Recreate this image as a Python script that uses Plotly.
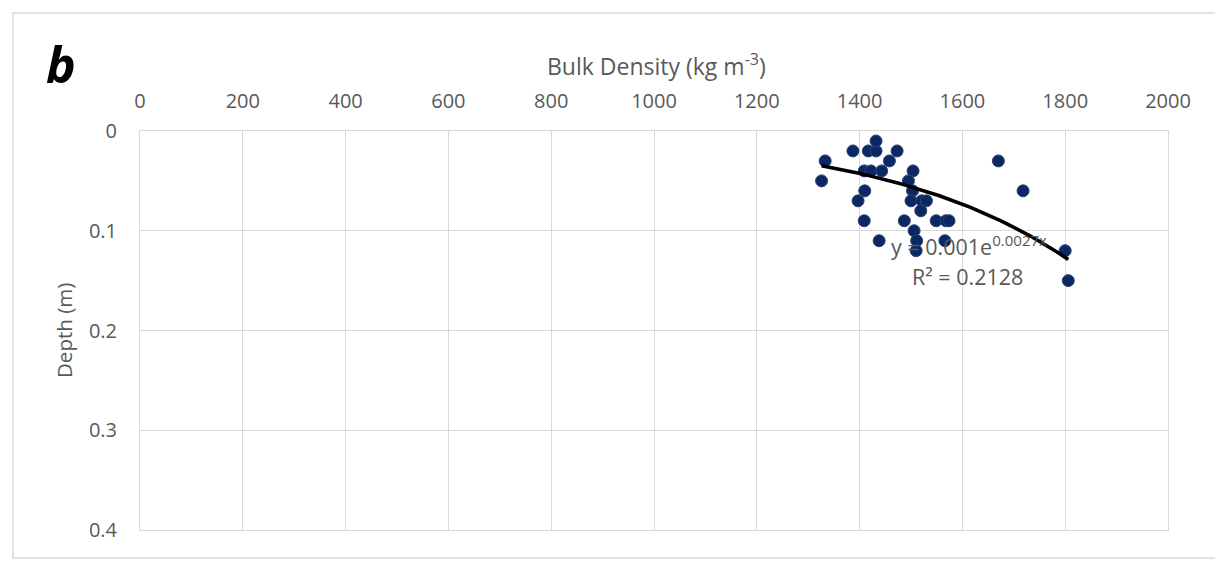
import numpy as np
import plotly.graph_objects as go

# Measured data (bulk density kg m-3, depth m)
bulk_density = [1333, 1326, 1387, 1417, 1432, 1432, 1473, 1458, 1409, 1422, 1443,
                1504, 1495, 1503, 1410, 1397, 1500, 1521, 1530, 1519, 1409, 1487,
                1549, 1568, 1574, 1506, 1438, 1511, 1566, 1510, 1670, 1718, 1800, 1806]
depth = [0.03, 0.05, 0.02, 0.02, 0.02, 0.01, 0.02, 0.03, 0.04, 0.04, 0.04,
         0.04, 0.05, 0.06, 0.06, 0.07, 0.07, 0.07, 0.07, 0.08, 0.09, 0.09,
         0.09, 0.09, 0.09, 0.10, 0.11, 0.11, 0.11, 0.12, 0.03, 0.06, 0.12, 0.15]

# Exponential trendline coefficients (y = a * exp(b x)) as drawn
TREND_A = 0.00093
TREND_B = 0.00273

x_ticks = [0, 200, 400, 600, 800, 1000, 1200, 1400, 1600, 1800, 2000]
y_ticks = [0, 0.1, 0.2, 0.3, 0.4]
y_ticktext = ["0", "0.1", "0.2", "0.3", "0.4"]

FONT = "Open Sans"
GREY = "#595959"
GRID = "#d9d9d9"

tx = np.linspace(min(bulk_density), max(bulk_density), 100)
ty = TREND_A * np.exp(TREND_B * tx)

fig = go.Figure()
fig.add_trace(go.Scatter(
    x=bulk_density, y=depth, mode="markers",
    marker=dict(size=12, color="#0b2865", line=dict(color="#2b4170", width=1)),
    showlegend=False, hoverinfo="x+y"))
fig.add_trace(go.Scatter(
    x=tx, y=ty, mode="lines", line=dict(color="black", width=3.6),
    showlegend=False, hoverinfo="skip"))

# page body has an 8px margin, so the figure is sized/offset to compensate
fig.update_layout(
    width=1215, height=554,
    margin=dict(l=132, r=55, t=123, b=32),
    paper_bgcolor="white", plot_bgcolor="white",
    font=dict(family=FONT, size=20, color=GREY),
    xaxis=dict(range=[0, 2000], side="top", tickvals=x_ticks,
               showgrid=True, gridcolor=GRID, gridwidth=1,
               showline=True, mirror=True, linecolor=GRID, linewidth=1,
               zeroline=False, ticks="", ticklabelstandoff=14,
               tickfont=dict(family=FONT, size=20, color=GREY)),
    yaxis=dict(range=[0.4, 0], tickvals=y_ticks, ticktext=y_ticktext,
               showgrid=True, gridcolor=GRID, gridwidth=1,
               showline=True, mirror=True, linecolor=GRID, linewidth=1,
               zeroline=False, ticks="", ticklabelstandoff=18,
               tickfont=dict(family=FONT, size=20, color=GREY)),
)

# outer chart border
fig.add_shape(type="rect", xref="paper", yref="paper",
              x0=(13 - 140) / 1028, x1=(1220 - 140) / 1028,
              y0=(530 - 558) / 399, y1=(530 - 13) / 399,
              line=dict(color=GRID, width=1.5), fillcolor="rgba(0,0,0,0)", layer="below")

annotations = [
    dict(text="<b><i>b</i></b>", x=(61 - 140) / 1028, y=(530 - 64) / 399,
         font=dict(family=FONT, size=50, color="black")),
    dict(text="Bulk Density (kg m<sup>-3</sup>)", x=(656 - 140) / 1028, y=(530 - 65) / 399,
         font=dict(family=FONT, size=23, color=GREY)),
    dict(text="Depth (m)", x=(64 - 140) / 1028, y=(530 - 331) / 399, textangle=-90,
         font=dict(family=FONT, size=20.5, color=GREY)),
]
for a in annotations:
    a.update(xref="paper", yref="paper", showarrow=False, xanchor="center", yanchor="middle")
    fig.add_annotation(**a)

fig.add_annotation(text="y = 0.001e<sup>0.0027x</sup>", x=1612, y=0.115, xref="x", yref="y",
                   showarrow=False, font=dict(family=FONT, size=21.5, color=GREY))
fig.add_annotation(text="R² = 0.2128", x=1610, y=0.146, xref="x", yref="y",
                   showarrow=False, font=dict(family=FONT, size=21.5, color=GREY))

fig.write_html("out.html")
